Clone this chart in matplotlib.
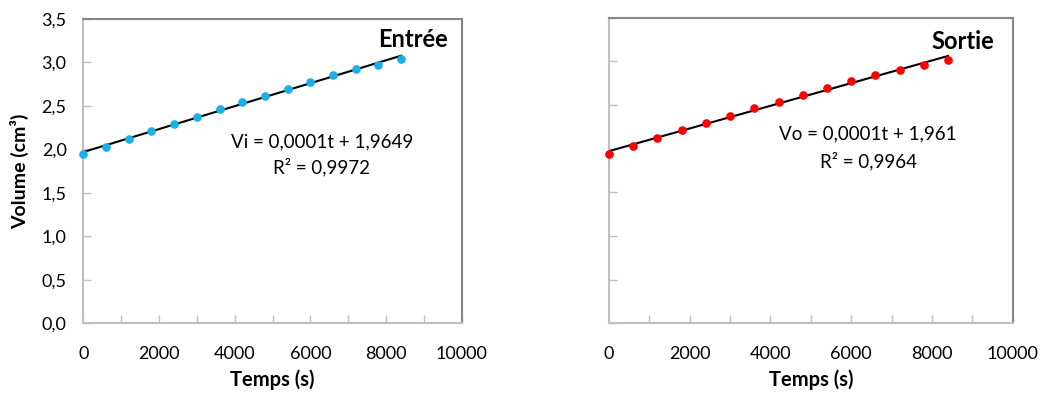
import numpy as np
import matplotlib
matplotlib.use('Agg')
import matplotlib.pyplot as plt
from matplotlib.ticker import MultipleLocator, FuncFormatter

plt.rcParams['font.family'] = ['Lato', 'DejaVu Sans']

# Données (temps en s, volumes en cm3)
temps = [0, 600, 1200, 1800, 2400, 3000, 3600, 4200, 4800, 5400, 6000, 6600, 7200, 7800, 8400]
vol_entree = [1.95, 2.03, 2.12, 2.21, 2.29, 2.37, 2.46, 2.54, 2.62, 2.70, 2.78, 2.86, 2.92, 2.97, 3.04]
vol_sortie = [1.94, 2.03, 2.12, 2.21, 2.29, 2.37, 2.46, 2.53, 2.61, 2.69, 2.77, 2.84, 2.90, 2.96, 3.02]

titres = ['Entrée', 'Sortie']
equations = ['Vi = 0,0001t + 1,9649', 'Vo = 0,0001t + 1,961']
r2_textes = ['R² = 0,9972', 'R² = 0,9964']
couleurs = ['#1AAFE6', '#FF0000']

fig = plt.figure(figsize=(10.43, 3.96), dpi=100)
ax1 = fig.add_axes([0.0799, 0.1836, 0.3628, 0.7684])
ax2 = fig.add_axes([0.5839, 0.1836, 0.3870, 0.7720])

virgule = FuncFormatter(lambda v, p: f'{v:.1f}'.replace('.', ','))

params = [
    (ax1, vol_entree, 0, (9630, 3.26), (6300, 2.085), (6300, 1.80)),
    (ax2, vol_sortie, 1, (9540, 3.23), (6420, 2.165), (6420, 1.857)),
]

for ax, vol, i, pos_titre, pos_eq, pos_r2 in params:
    t = np.array(temps)
    v = np.array(vol)
    a, b = np.polyfit(t, v, 1)
    ax.plot([t[0], t[-1]], [b + a * t[0], b + a * t[-1]], color='black', lw=1.5, zorder=2)
    ax.plot(t, v, 'o', color=couleurs[i], ms=5.2, zorder=3, clip_on=False)

    ax.set_xlim(0, 10000)
    ax.set_ylim(0, 3.5)
    ax.xaxis.set_major_locator(MultipleLocator(2000))
    ax.xaxis.set_minor_locator(MultipleLocator(1000))
    ax.yaxis.set_major_locator(MultipleLocator(0.5))
    ax.yaxis.set_major_formatter(virgule)
    ax.tick_params(axis='x', which='major', direction='in', length=6, width=1,
                   color='#bfbfbf', labelsize=13, pad=16)
    ax.tick_params(axis='x', which='minor', direction='in', length=6, width=1, color='#bfbfbf')
    ax.tick_params(axis='y', direction='in', length=6, width=1, color='#bfbfbf',
                   labelsize=13, pad=12)
    for s in ['left', 'bottom']:
        ax.spines[s].set_color('#bfbfbf')
        ax.spines[s].set_linewidth(1.5)
    for s in ['top', 'right']:
        ax.spines[s].set_color('#868686')
        ax.spines[s].set_linewidth(1.5)

    ax.set_xlabel('Temps (s)', fontsize=14.5, fontweight='bold', labelpad=6)
    ax.text(pos_titre[0], pos_titre[1], titres[i], fontsize=17, fontweight='bold',
            ha='right', va='center')
    ax.text(pos_eq[0], pos_eq[1], equations[i], fontsize=13.5, ha='center', va='center')
    ax.text(pos_r2[0], pos_r2[1], r2_textes[i], fontsize=13.5, ha='center', va='center')

ax1.set_ylabel('Volume (cm³)', fontsize=14, fontweight='bold', labelpad=9)
ax2.tick_params(axis='y', labelleft=False)

fig.savefig('out.png', dpi=100)
